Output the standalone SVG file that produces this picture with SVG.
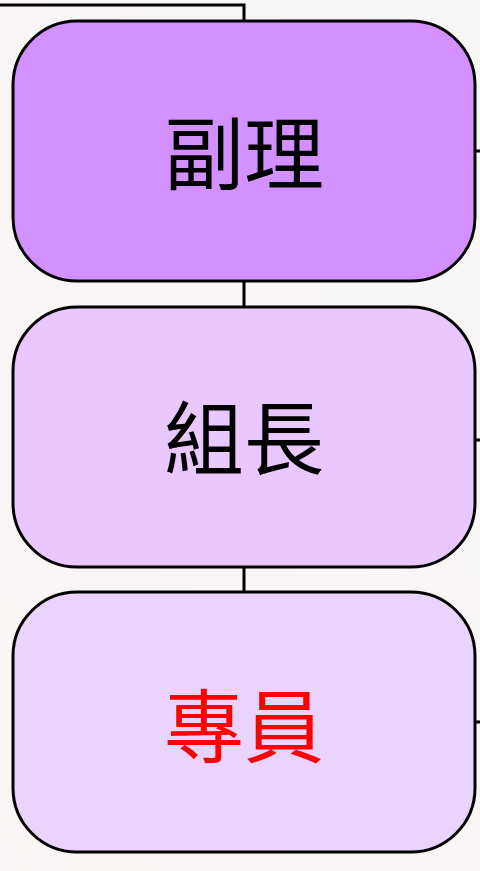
<svg xmlns="http://www.w3.org/2000/svg" width="480" height="871" viewBox="0 0 480 871">
<defs>
<linearGradient id="bg" x1="0" y1="1" x2="1" y2="0">
<stop offset="0" stop-color="#fbf4f4"/>
<stop offset="1" stop-color="#f7f7f6"/>
</linearGradient>
</defs>
<style>
.box{stroke:#000;stroke-width:3}
.ln{stroke:#000;stroke-width:3;fill:none}
.t{font-family:"Noto Sans CJK TC","Noto Sans CJK SC",sans-serif;font-size:80px;text-anchor:middle;dominant-baseline:central}
</style>
<rect width="480" height="871" fill="url(#bg)"/>
<g id="connectors">
<polyline class="ln" points="0,5 244,5 244,22"/>
<line class="ln" x1="244" y1="281" x2="244" y2="308"/>
<line class="ln" x1="244" y1="567" x2="244" y2="593"/>
<line class="ln" x1="475" y1="151" x2="480" y2="151"/>
<line class="ln" x1="475" y1="440" x2="480" y2="440"/>
<line class="ln" x1="475" y1="722" x2="480" y2="722"/>
</g>
<g id="node1">
<rect class="box" x="13" y="21" width="462" height="260" rx="64" fill="#d291fe"/>
<text class="t" x="244" y="148" fill="#000">副理</text>
</g>
<g id="node2">
<rect class="box" x="13" y="307" width="462" height="260" rx="64" fill="#e8c8fe"/>
<text class="t" x="244" y="433" fill="#000">組長</text>
</g>
<g id="node3">
<rect class="box" x="13" y="592" width="462" height="260" rx="64" fill="#ead4fe"/>
<text class="t" x="244" y="721" fill="#ff0000">專員</text>
</g>
</svg>
